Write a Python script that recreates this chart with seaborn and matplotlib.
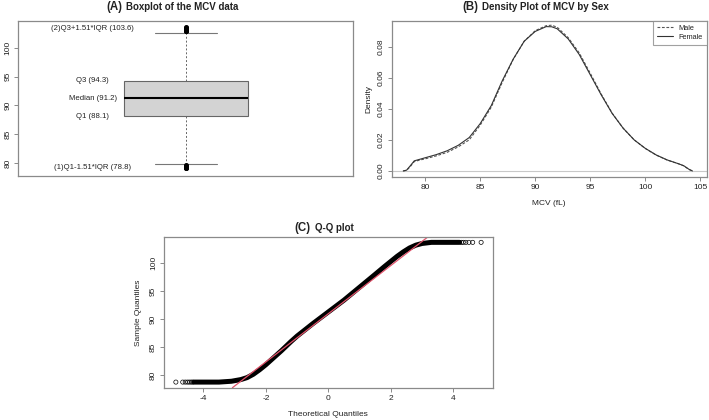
import matplotlib
matplotlib.use("Agg")
import matplotlib.pyplot as plt
import seaborn as sns
import pandas as pd
from matplotlib.lines import Line2D

# (A) boxplot summary
box_med = 91.2
box_q1 = 88.1
box_q3 = 94.3
whisker_low = 79.8
whisker_high = 102.6
fliers_low = [79.1, 79.25, 79.4, 79.55, 79.7]
fliers_high = [102.8, 102.95, 103.1, 103.25, 103.4, 103.5]
box_labels = ["(2)Q3+1.51*IQR (103.6)", "Q3 (94.3)", "Median (91.2)",
              "Q1 (88.1)", "(1)Q1-1.51*IQR (78.8)"]
box_label_y = [103.25, 94.3, 91.2, 88.1, 79.35]

# (B) density of MCV by sex
mcv_grid = [78.0, 78.3, 78.6, 79.0, 79.5, 80, 81, 82, 83, 84, 85, 86, 87, 88, 89,
            90, 91, 91.5, 92, 93, 94, 95, 96, 97, 98, 99, 100, 101, 102, 103,
            103.5, 104, 104.3]
dens_female = [0.0, 0.0005, 0.003, 0.0065, 0.0075, 0.0085, 0.0105, 0.013, 0.0165,
               0.0215, 0.0305, 0.042, 0.058, 0.072, 0.0835, 0.0898, 0.0929, 0.0928,
               0.0915, 0.085, 0.075, 0.062, 0.049, 0.037, 0.0275, 0.020, 0.0146,
               0.0103, 0.0071, 0.0047, 0.0034, 0.001, 0.0]
dens_male = [0.0, 0.0004, 0.0025, 0.006, 0.007, 0.0078, 0.0097, 0.012, 0.0155,
             0.020, 0.0295, 0.041, 0.057, 0.0718, 0.0835, 0.0903, 0.0935, 0.0938,
             0.0925, 0.0858, 0.076, 0.063, 0.0495, 0.0372, 0.0275, 0.020, 0.0145,
             0.0102, 0.007, 0.0047, 0.0033, 0.0009, 0.0]

# (C) Q-Q plot: dense band and sparse tail points
qq_theo = [-4.30, -3.5, -3.1, -2.8, -2.6, -2.4, -2.2, -2.0, -1.8, -1.5, -1.2, -1.0,
           -0.5, 0.0, 0.5, 1.0, 1.5, 1.8, 2.0, 2.2, 2.4, 2.6, 2.8, 3.0, 3.3, 4.2]
qq_sample = [78.8, 78.8, 78.95, 79.25, 79.6, 80.2, 81.0, 81.9, 82.9, 84.4, 86.0,
             87.0, 89.2, 91.3, 93.4, 95.7, 98.0, 99.4, 100.3, 101.2, 102.0, 102.7,
             103.2, 103.5, 103.7, 103.7]
qq_tail_theo = [-4.88, -4.66, -4.58, -4.51, -4.45, -4.39, -4.34,
                4.26, 4.32, 4.40, 4.50, 4.62, 4.89]
qq_tail_sample = [78.8] * 7 + [103.7] * 6
qqline_x = [-3.07, 3.17]
qqline_y = [77.8, 104.6]

sns.set_style("ticks")
plt.rcParams["font.family"] = ["Liberation Sans", "DejaVu Sans"]
plt.rcParams["axes.unicode_minus"] = False
text_col = "#222222"
frame_col = "#8a8a8a"

W, H = 709, 420
fig = plt.figure(figsize=(W / 100, H / 100), dpi=100)
ax_a = fig.add_axes([0.0258, 0.581, 0.472, 0.369])
ax_b = fig.add_axes([0.5525, 0.5793, 0.4443, 0.3714])
ax_c = fig.add_axes([0.2313, 0.0769, 0.4636, 0.3581])


def style_axes(ax):
    for s in ax.spines.values():
        s.set_color(frame_col)
        s.set_linewidth(0.9)
    ax.tick_params(colors=frame_col, labelcolor=text_col, labelsize=6,
                   length=3, width=0.7, pad=2)
    ax.tick_params(axis="y", labelrotation=90)
    for lab in ax.get_yticklabels():
        lab.set_va("center")


def panel_title(tag, text, split_px, base_px):
    # tag in a larger font, rest in bold, as in the R output
    fig.text((split_px - 2) / W, 1 - base_px / H, tag, ha="right", va="baseline",
             fontsize=8.3, fontweight="bold", color=text_col)
    fig.text((split_px + 2) / W, 1 - base_px / H, text, ha="left", va="baseline",
             fontsize=7, fontweight="bold", color=text_col)


# ---- (A) boxplot
stats = [dict(med=box_med, q1=box_q1, q3=box_q3, whislo=whisker_low,
              whishi=whisker_high, fliers=fliers_low + fliers_high)]
ax_a.bxp(stats, positions=[1], widths=0.4, capwidths=0.2, patch_artist=True,
         boxprops=dict(facecolor="#d3d3d3", edgecolor="#666666", linewidth=0.8),
         medianprops=dict(color="black", linewidth=1.5),
         whiskerprops=dict(color="#666666", linestyle=(0, (2, 2)), linewidth=0.7),
         capprops=dict(color="#777777", linewidth=0.8),
         flierprops=dict(marker="o", markersize=2.6, markerfacecolor="black",
                         markeredgecolor="black"))
ax_a.set_xlim(0.46, 1.54)
ax_a.set_ylim(77.8, 104.6)
ax_a.set_xticks([])
ax_a.set_yticks([80, 85, 90, 95, 100])
for lab, y in zip(box_labels, box_label_y):
    ax_a.text(0.7, y, lab, ha="center", va="center", fontsize=5.6, color=text_col)
panel_title("(A)", "Boxplot of the MCV data", 124.5, 10)
style_axes(ax_a)

# ---- (B) density plot
dens = pd.DataFrame({"mcv": mcv_grid * 2,
                     "density": dens_male + dens_female,
                     "sex": ["Male"] * len(mcv_grid) + ["Female"] * len(mcv_grid)})
ax_b.axhline(0, color="#c8c8c8", linewidth=0.8)
sns.lineplot(data=dens[dens.sex == "Male"], x="mcv", y="density", ax=ax_b,
             color="#555555", linewidth=0.8, linestyle=(0, (2.5, 1.5)))
sns.lineplot(data=dens[dens.sex == "Female"], x="mcv", y="density", ax=ax_b,
             color="#333333", linewidth=0.8)
ax_b.set_xlim(76.95, 105.6)
ax_b.set_ylim(-0.0037, 0.0967)
ax_b.set_xticks([80, 85, 90, 95, 100, 105])
ax_b.set_yticks([0.0, 0.02, 0.04, 0.06, 0.08])
ax_b.set_yticklabels(["0.00", "0.02", "0.04", "0.06", "0.08"])
ax_b.set_xlabel("MCV (fL)", fontsize=6, color=text_col, labelpad=7)
ax_b.set_ylabel("Density", fontsize=6, color=text_col, labelpad=4)
handles = [Line2D([], [], color="#555555", lw=0.8, linestyle=(0, (2.5, 1.5))),
           Line2D([], [], color="#333333", lw=0.8)]
leg = ax_b.legend(handles, ["Male", "Female"], loc="upper right", fontsize=5.3,
                  frameon=True, fancybox=False, borderaxespad=0, handlelength=2.2,
                  borderpad=0.5, labelspacing=0.3, edgecolor=frame_col)
leg.get_frame().set_linewidth(0.8)
for t in leg.get_texts():
    t.set_color(text_col)
panel_title("(B)", "Density Plot of MCV by Sex", 480, 10)
style_axes(ax_b)

# ---- (C) Q-Q plot
sns.lineplot(x=qq_theo, y=qq_sample, ax=ax_c, color="black", linewidth=3.6,
             sort=False, solid_capstyle="round")
sns.scatterplot(x=qq_tail_theo, y=qq_tail_sample, ax=ax_c, marker="o", s=9,
                facecolor="none", edgecolor="black", linewidth=0.5)
ax_c.plot(qqline_x, qqline_y, color="#DF536B", linewidth=0.9)
ax_c.set_xlim(-5.26, 5.26)
ax_c.set_ylim(77.8, 104.6)
ax_c.set_xticks([-4, -2, 0, 2, 4])
ax_c.set_yticks([80, 85, 90, 95, 100])
ax_c.set_xlabel("Theoretical Quantiles", fontsize=6, color=text_col, labelpad=7)
ax_c.set_ylabel("Sample Quantiles", fontsize=6, color=text_col, labelpad=6)
panel_title("(C)", "Q-Q plot", 312.7, 230.7)
style_axes(ax_c)

fig.savefig("out.png", dpi=100)
